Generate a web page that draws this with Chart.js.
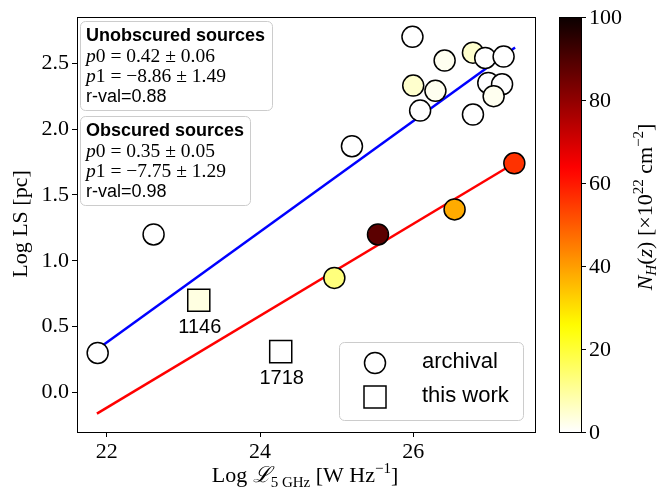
<!DOCTYPE html>
<html>
<head>
<meta charset="utf-8">
<script src="https://cdn.jsdelivr.net/npm/chart.js@4"></script>
<style>
  html, body { margin: 0; padding: 0; background: #fff; }
  #wrap { width: 658px; height: 492px; }
</style>
</head>
<body>
<div id="wrap"><canvas id="lsChart" width="658" height="492"></canvas></div>
<script>
// archival sources (circles), colour = N_H in 1e22 cm^-2
const archX  = [21.88, 22.61, 25.20, 25.99, 26.00, 26.09, 26.41, 26.29, 26.78, 26.94, 27.18, 26.98, 27.16, 27.05, 26.78, 27.32, 26.54, 25.54, 24.97];
const archY  = [0.30, 1.20, 1.87, 2.70, 2.33, 2.14, 2.52, 2.29, 2.58, 2.54, 2.55, 2.35, 2.34, 2.25, 2.11, 1.74, 1.39, 1.20, 0.87];
const archNH = [0, 0, 0, 0, 5, 0, 1.5, 1.5, 5, 0, 0, 0, 0, 1.5, 0, 56, 38, 88, 13];

// this work (squares)
const workX  = [23.20, 24.27];
const workY  = [0.70, 0.31];
const workNH = [3, 0];
const workLabels = ['1146', '1718'];

// fitted relations (end points)
const unobsFitX = [21.88, 27.33];
const unobsFitY = [0.33, 2.62];
const obsFitX = [21.87, 27.32];
const obsFitY = [-0.16, 1.74];

// fit stats
const unobsStats = ['0.42', '0.06', '8.86', '1.49', '0.88'];
const obsStats = ['0.35', '0.05', '7.75', '1.29', '0.98'];

// ticks
const xTicks = [22, 24, 26];
const yTicks = [0, 0.5, 1, 1.5, 2, 2.5];
const cbTicks = [0, 20, 40, 60, 80, 100];

const SERIF = "'Liberation Serif', 'DejaVu Serif', serif";
const SANS = "'Liberation Sans', 'DejaVu Sans', sans-serif";

// matplotlib hot_r
function hotR(v) {
  const x = 1 - v / 100;
  const r = Math.min(1, 0.0416 + x * (1 - 0.0416) / 0.365079);
  const g = Math.min(1, Math.max(0, (x - 0.365079) / (0.746032 - 0.365079)));
  const b = Math.min(1, Math.max(0, (x - 0.746032) / (1 - 0.746032)));
  return 'rgb(' + Math.round(r * 255) + ',' + Math.round(g * 255) + ',' + Math.round(b * 255) + ')';
}

const toPts = (xs, ys) => xs.map((x, i) => ({x: x, y: ys[i]}));

// draw text made of pieces with their own fonts / baseline shifts
function drawRich(ctx, segs, x, y, align) {
  let total = 0;
  segs.forEach(s => { ctx.font = s.font; total += ctx.measureText(s.t).width; });
  let cx = align === 'center' ? x - total / 2 : x;
  ctx.textAlign = 'left';
  ctx.textBaseline = 'alphabetic';
  segs.forEach(s => {
    ctx.font = s.font;
    ctx.fillText(s.t, cx, y + (s.dy || 0));
    cx += ctx.measureText(s.t).width;
  });
}

function roundBox(ctx, x, y, w, h, r) {
  ctx.beginPath();
  ctx.moveTo(x + r, y);
  ctx.arcTo(x + w, y, x + w, y + h, r);
  ctx.arcTo(x + w, y + h, x, y + h, r);
  ctx.arcTo(x, y + h, x, y, r);
  ctx.arcTo(x, y, x + w, y, r);
  ctx.closePath();
  ctx.fillStyle = 'rgba(255,255,255,0.85)';
  ctx.fill();
  ctx.strokeStyle = '#cccccc';
  ctx.lineWidth = 1;
  ctx.stroke();
}

function statBox(ctx, title, st, bx, by, bw) {
  roundBox(ctx, bx + 0.5, by + 0.5, bw, 89, 5);
  ctx.fillStyle = '#000';
  const tx = bx + 6;
  drawRich(ctx, [{t: title, font: 'bold 18px ' + SANS}], tx, by + 20);
  const it = 'italic 19.5px ' + SERIF, rm = '19.5px ' + SERIF;
  drawRich(ctx, [{t: 'p', font: it}, {t: '0 = ' + st[0] + ' \u00b1 ' + st[1], font: rm}], tx, by + 41);
  drawRich(ctx, [{t: 'p', font: it}, {t: '1 = \u2212' + st[2] + ' \u00b1 ' + st[3], font: rm}], tx, by + 61);
  drawRich(ctx, [{t: 'r-val=' + st[4], font: '18px ' + SANS}], tx, by + 81);
}

const decor = {
  id: 'decor',
  afterDraw(chart) {
    const ctx = chart.ctx;
    const a = chart.chartArea;
    const xs = chart.scales.x, ys = chart.scales.y;
    ctx.save();

    // frame
    ctx.strokeStyle = '#000';
    ctx.lineWidth = 1;
    ctx.strokeRect(Math.round(a.left) + 0.5, Math.round(a.top) + 0.5,
      Math.round(a.right - a.left), Math.round(a.bottom - a.top));

    // labels under squares
    ctx.fillStyle = '#000';
    ctx.font = '20px ' + SANS;
    ctx.textAlign = 'center';
    ctx.textBaseline = 'middle';
    workLabels.forEach((lab, i) => {
      ctx.fillText(lab, xs.getPixelForValue(workX[i]) + 1, ys.getPixelForValue(workY[i]) + 27);
    });

    // stats boxes
    statBox(ctx, 'Unobscured sources', unobsStats, 80, 21, 192);
    statBox(ctx, 'Obscured sources', obsStats, 80, 116, 170);

    // legend
    roundBox(ctx, 339.5, 342.5, 184, 78, 5);
    ctx.fillStyle = '#fff';
    ctx.strokeStyle = '#000';
    ctx.lineWidth = 1.5;
    ctx.beginPath();
    ctx.arc(375, 363, 10.5, 0, Math.PI * 2);
    ctx.fill(); ctx.stroke();
    ctx.beginPath();
    ctx.rect(364, 386, 22, 22);
    ctx.fill(); ctx.stroke();
    ctx.fillStyle = '#000';
    ctx.font = '22px ' + SANS;
    ctx.textAlign = 'left';
    ctx.textBaseline = 'middle';
    ctx.fillText('archival', 422, 362);
    ctx.fillText('this work', 422, 396);

    // axis titles
    const big = '22px ' + SERIF, small = '15px ' + SERIF;
    drawRich(ctx, [
      {t: 'Log ', font: big},
      {t: '\u2112', font: "italic 22px 'DejaVu Serif', serif"},
      {t: '5 GHz', font: small, dy: 5},
      {t: ' [W Hz', font: big},
      {t: '\u22121', font: small, dy: -9},
      {t: ']', font: big}
    ], 305, 482, 'center');

    ctx.save();
    ctx.translate(27, 224);
    ctx.rotate(-Math.PI / 2);
    drawRich(ctx, [{t: 'Log LS [pc]', font: big}], 0, 0, 'center');
    ctx.restore();

    // colorbar
    const cbL = 559, cbR = 581, cbT = a.top, cbB = a.bottom;
    const grad = ctx.createLinearGradient(0, cbB, 0, cbT);
    for (let v = 0; v <= 100; v += 2) grad.addColorStop(v / 100, hotR(v));
    ctx.fillStyle = grad;
    ctx.fillRect(cbL, cbT, cbR - cbL, cbB - cbT);
    ctx.strokeStyle = '#000';
    ctx.lineWidth = 1;
    ctx.strokeRect(cbL + 0.5, Math.round(cbT) + 0.5, cbR - cbL, Math.round(cbB - cbT));
    ctx.fillStyle = '#000';
    ctx.font = big;
    ctx.textAlign = 'left';
    ctx.textBaseline = 'middle';
    cbTicks.forEach(v => {
      const py = Math.round(cbB - v / 100 * (cbB - cbT)) + 0.5;
      ctx.beginPath();
      ctx.moveTo(cbR, py); ctx.lineTo(cbR + 5, py);
      ctx.stroke();
      ctx.fillText(String(v), cbR + 8, py + 1);
    });

    ctx.save();
    ctx.translate(652, 207);
    ctx.rotate(-Math.PI / 2);
    const it = 'italic 22px ' + SERIF, its = 'italic 15px ' + SERIF;
    drawRich(ctx, [
      {t: 'N', font: it},
      {t: 'H', font: its, dy: 4},
      {t: '(', font: big},
      {t: 'z', font: it},
      {t: ') [\u00d710', font: big},
      {t: '22', font: small, dy: -9},
      {t: ' cm', font: big},
      {t: '\u22122', font: small, dy: -9},
      {t: ']', font: big}
    ], 0, 0, 'center');
    ctx.restore();

    ctx.restore();
  }
};

const ctx = document.getElementById('lsChart').getContext('2d');
new Chart(ctx, {
  type: 'scatter',
  data: {
    datasets: [
      {
        label: 'archival',
        data: toPts(archX, archY),
        pointStyle: 'circle',
        pointRadius: 10.5,
        pointHoverRadius: 10.5,
        backgroundColor: archNH.map(hotR),
        borderColor: '#000',
        borderWidth: 1.5,
        order: 0
      },
      {
        label: 'this work',
        data: toPts(workX, workY),
        pointStyle: 'rect',
        pointRadius: 15.6,
        pointHoverRadius: 15.6,
        backgroundColor: workNH.map(hotR),
        borderColor: '#000',
        borderWidth: 1.5,
        order: 0
      },
      {
        label: 'unobscured fit',
        data: toPts(unobsFitX, unobsFitY),
        showLine: true,
        pointRadius: 0,
        borderColor: '#0000ff',
        borderWidth: 2.5,
        order: 2
      },
      {
        label: 'obscured fit',
        data: toPts(obsFitX, obsFitY),
        showLine: true,
        pointRadius: 0,
        borderColor: '#ff0000',
        borderWidth: 2.5,
        order: 2
      }
    ]
  },
  options: {
    responsive: false,
    animation: false,
    events: [],
    layout: { padding: { top: 17, right: 123, left: 0, bottom: 0 } },
    plugins: {
      legend: { display: false },
      tooltip: { enabled: false }
    },
    scales: {
      x: {
        min: 21.61,
        max: 27.59,
        afterBuildTicks: s => { s.ticks = xTicks.map(v => ({value: v})); },
        afterFit: s => { s.height = 60; },
        border: { display: false },
        grid: { drawOnChartArea: false, drawTicks: true, tickLength: 5, color: '#000' },
        ticks: { color: '#000', font: { family: SERIF, size: 22 }, padding: 2, maxRotation: 0 }
      },
      y: {
        min: -0.30,
        max: 2.85,
        afterBuildTicks: s => { s.ticks = yTicks.map(v => ({value: v})); },
        afterFit: s => { s.width = 77; },
        border: { display: false },
        grid: { drawOnChartArea: false, drawTicks: true, tickLength: 5, color: '#000' },
        ticks: { color: '#000', font: { family: SERIF, size: 22 }, padding: 3,
          callback: v => v.toFixed(1) }
      }
    }
  },
  plugins: [decor]
});
</script>
</body>
</html>
